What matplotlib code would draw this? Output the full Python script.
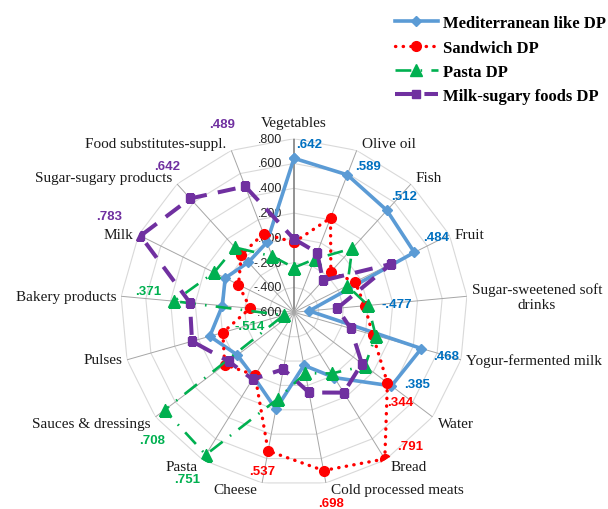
import numpy as np
import matplotlib
matplotlib.use("Agg")
import matplotlib.pyplot as plt

# ─────────────────────────────────────────────────────────────
#  DATA
# ─────────────────────────────────────────────────────────────
CATEGORIES = ["Vegetables", "Olive oil", "Fish", "Fruit",
              "Sugar-sweetened soft\ndrinks", "Yogur-fermented milk", "Water",
              "Bread", "Cold processed meats", "Cheese", "Pasta",
              "Sauces & dressings", "Pulses", "Bakery products", "Milk",
              "Sugar-sugary products", "Food substitutes-suppl."]

MEDITERRANEAN = [0.642, 0.589, 0.512, 0.484, -0.477, 0.468, 0.385, 0.02, -0.165,
                 0.195, 0.015, -0.028, 0.106, -0.02, 0.02, -0.054, 0.005]
SANDWICH      = [-0.035, 0.215, -0.159, -0.05, -0.027, 0.06, 0.344, 0.791, 0.698,
                 0.537, -0.003, 0.10, -0.003, -0.245, -0.10, 0.03, 0.08]
PASTA         = [-0.24, -0.14, 0.097, -0.12, 0.0, 0.085, 0.117, -0.02, -0.10,
                 0.11, 0.751, 0.708, -0.514, 0.371, 0.12, 0.108, -0.116]
MILK_SUGARY   = [-0.009, -0.084, -0.253, 0.275, -0.25, -0.124, 0.086, 0.162, 0.058,
                 -0.133, 0.035, 0.058, 0.255, 0.243, 0.783, 0.642, 0.489]

SERIES_NAMES = ["Mediterranean like DP", "Sandwich DP", "Pasta DP", "Milk-sugary foods DP"]
R_TICKS = [-0.6, -0.4, -0.2, 0.0, 0.2, 0.4, 0.6, 0.8]

# which points carry a data label: (series idx, category idx, dx px, dy px)
LABELS = [
    (0, 0, 15, 14), (0, 1, 21, 9), (0, 2, 17, 14), (0, 3, 22, 15),
    (0, 4, 88, 7), (0, 5, 25, -7), (0, 6, 26, 2),
    (1, 6, 13, -19), (1, 7, 25, 13), (1, 8, 7, -32), (1, 9, -6, -20),
    (2, 10, -19, -24), (2, 11, -13, -30), (2, 12, -34, -11), (2, 13, -26, 10),
    (3, 14, -31, 20), (3, 15, -23, 32), (3, 16, -23, 62),
]

# ─────────────────────────────────────────────────────────────
#  STYLE
# ─────────────────────────────────────────────────────────────
SERIF = "Liberation Serif"
SANS = "Liberation Sans"

STYLES = [
    dict(color="#5B9BD5", lw=2.6, ls="-", marker="D", ms=5.5, cap="butt"),
    dict(color="#FF0000", lw=2.4, ls=(0, (0.1, 2.2)), marker="o", ms=7, cap="round"),
    dict(color="#00B050", lw=1.9, ls=(0, (6, 3.5, 0.6, 3.5)), marker="^", ms=8, cap="butt"),
    dict(color="#7030A0", lw=2.9, ls=(0, (4.5, 2.8)), marker="s", ms=6, cap="butt"),
]
LABEL_COLORS = ["#0070C0", "#FF0000", "#00B050", "#7030A0"]


def fmt(v):
    s = f"{v:.3f}"
    return s.replace("0.", ".", 1)


def main():
    n = len(CATEGORIES)
    theta = np.arange(n) * 2 * np.pi / n
    theta_c = np.append(theta, theta[0])

    fig = plt.figure(figsize=(6.08, 5.10), dpi=100)
    ax = fig.add_axes([0.198, 0.0453, 0.5711, 0.6808], projection="polar")
    ax.set_theta_offset(np.pi / 2)
    ax.set_theta_direction(-1)
    ax.set_ylim(R_TICKS[0], R_TICKS[-1])
    ax.grid(False)
    ax.spines["polar"].set_visible(False)
    ax.set_xticks([])
    ax.set_yticks([])
    ax.patch.set_alpha(0)

    # polygon grid rings and spokes (Excel style)
    for lvl in R_TICKS[1:]:
        ax.plot(theta_c, [lvl] * (n + 1), color="#D9D9D9", lw=0.8, zorder=1)
    for i, t in enumerate(theta):
        ax.plot([t, t], [R_TICKS[0], R_TICKS[-1]],
                color="#808080" if i == 0 else "#A6A6A6",
                lw=1.2 if i == 0 else 0.7, zorder=1)

    # radial tick labels along the vertical axis
    for lvl in R_TICKS:
        ax.annotate(fmt(lvl), xy=(0, lvl), xytext=(-12, 0),
                    textcoords="offset pixels", ha="right", va="center",
                    fontsize=9, family=SANS, color="#262626", zorder=2)

    # series
    all_series = [MEDITERRANEAN, SANDWICH, PASTA, MILK_SUGARY]
    handles = []
    for k, (vals, st) in enumerate(zip(all_series, STYLES)):
        v = np.append(vals, vals[0])
        ln, = ax.plot(theta_c, v, color=st["color"], lw=st["lw"], ls=st["ls"],
                      marker=st["marker"], ms=st["ms"], mfc=st["color"],
                      mec=st["color"], dash_capstyle=st["cap"], zorder=3 + k,
                      label=SERIES_NAMES[k])
        handles.append(ln)

    # data labels
    for s, c, dx, dy in LABELS:
        val = all_series[s][c]
        ax.annotate(fmt(val), xy=(theta[c], val), xytext=(dx, dy),
                    textcoords="offset pixels", ha="center", va="center",
                    fontsize=9.5, fontweight="bold", family=SANS,
                    color=LABEL_COLORS[s], zorder=10)

    # category labels
    for t, name in zip(theta, CATEGORIES):
        s, c = np.sin(t), np.cos(t)
        if s > 0.15:
            ha, dx = "left", 5
        elif s < -0.15:
            ha, dx = "right", -5
        else:
            ha, dx = "center", 0
        if c > 0.5:
            va = "bottom"
        elif c < -0.5:
            va = "top"
        else:
            va = "center"
        dy = 10 if abs(s) < 0.15 and c > 0 else (-4 if abs(s) < 0.15 else 0)
        ax.annotate(name, xy=(t, R_TICKS[-1]), xytext=(dx, dy),
                    textcoords="offset pixels", ha=ha, va=va,
                    multialignment="center", fontsize=11, family=SERIF,
                    color="#1a1a1a", annotation_clip=False)

    fig.legend(handles=handles, loc="upper left",
               bbox_to_anchor=(0.649, 0.968), frameon=False,
               prop=dict(family=SERIF, weight="bold", size=12),
               handlelength=2.6, handletextpad=0.3, labelspacing=0.5,
               numpoints=1, borderpad=0, borderaxespad=0)

    fig.savefig("out.png", dpi=100)
    plt.close(fig)


if __name__ == "__main__":
    main()
